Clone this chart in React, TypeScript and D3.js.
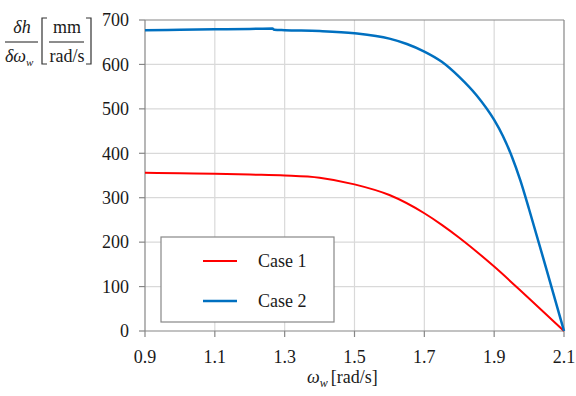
import React from "react";
import * as d3 from "d3";

const xTicks = [0.9, 1.1, 1.3, 1.5, 1.7, 1.9, 2.1];
const yTicks = [0, 100, 200, 300, 400, 500, 600, 700];

const case1X = [0.9, 1.0, 1.1, 1.2, 1.3, 1.4, 1.5, 1.6, 1.7, 1.75, 1.8, 1.9, 2.0, 2.1];
const case1Y = [356, 355, 354, 352, 350, 345, 330, 306, 265, 239, 210, 145, 73, 0];

const case2X = [0.9, 1.0, 1.1, 1.2, 1.265, 1.27, 1.3, 1.4, 1.5, 1.6, 1.65, 1.7, 1.75, 1.8, 1.85, 1.9, 1.925, 1.95, 1.975, 2.0, 2.05, 2.1];
const case2Y = [677, 678, 679, 680, 681, 678, 677, 675, 670, 658, 646, 629, 606, 572, 530, 475, 439, 394, 339, 274, 138, 0];

const seriesNames = ["Case 1", "Case 2"];
const seriesColors = ["#ff0000", "#0070c0"];

const FONT = "Liberation Serif, DejaVu Serif, Times New Roman, serif";

export default function App() {
  const L = 145, R = 564, T = 20, B = 331;
  const x = d3.scaleLinear().domain([0.9, 2.1]).range([L, R]);
  const y = d3.scaleLinear().domain([0, 700]).range([B, T]);
  const line = d3
    .line<[number, number]>()
    .x((d) => x(d[0]))
    .y((d) => y(d[1]))
    .curve(d3.curveMonotoneX);
  const s1 = case1X.map((v, i) => [v, case1Y[i]] as [number, number]);
  const s2 = case2X.map((v, i) => [v, case2Y[i]] as [number, number]);
  const axisColor = "#868686";
  const txt = "#1a1a1a";
  const ts = { fontFamily: FONT } as React.CSSProperties;

  const bracket = (bx: number, dir: number) =>
    `M${bx + dir * 5},18 L${bx},18 L${bx},64 L${bx + dir * 5},64`;

  return (
    <svg
      width={576}
      height={396}
      style={{ position: "absolute", left: 0, top: 0, background: "#fff", fontFamily: FONT }}
    >
      {/* grid */}
      {xTicks.slice(1, -1).map((t) => (
        <line key={"gx" + t} x1={x(t)} x2={x(t)} y1={T} y2={B} stroke="#d9d9d9" strokeWidth={1.2} />
      ))}
      {yTicks.slice(1, -1).map((t) => (
        <line key={"gy" + t} x1={L} x2={R} y1={y(t)} y2={y(t)} stroke="#d9d9d9" strokeWidth={1.2} />
      ))}
      {/* frame */}
      <line x1={L} x2={R} y1={T} y2={T} stroke={axisColor} strokeWidth={1.2} />
      <line x1={R} x2={R} y1={T} y2={B} stroke={axisColor} strokeWidth={1.2} />
      <line x1={L} x2={L} y1={T} y2={B} stroke={axisColor} strokeWidth={1.2} />
      <line x1={L} x2={R} y1={B} y2={B} stroke={axisColor} strokeWidth={1.2} />
      {/* ticks */}
      {yTicks.map((t) => (
        <g key={"ty" + t}>
          <line x1={L - 6} x2={L} y1={y(t)} y2={y(t)} stroke={axisColor} strokeWidth={1.2} />
          <text x={L - 16} y={y(t)} dy="0.35em" textAnchor="end" fontSize={18} fill={txt} style={ts}>
            {t}
          </text>
        </g>
      ))}
      {xTicks.map((t) => (
        <g key={"tx" + t}>
          <line x1={x(t)} x2={x(t)} y1={B} y2={B + 6} stroke={axisColor} strokeWidth={1.2} />
          <text x={x(t)} y={B + 32} textAnchor="middle" fontSize={18} fill={txt} style={ts}>
            {t.toFixed(1)}
          </text>
        </g>
      ))}
      {/* series */}
      <path d={line(s1) || ""} fill="none" stroke={seriesColors[0]} strokeWidth={2} />
      <path d={line(s2) || ""} fill="none" stroke={seriesColors[1]} strokeWidth={2.5} />
      {/* legend */}
      <rect x={161} y={237} width={173} height={85} fill="#fff" stroke="#888" strokeWidth={1.2} />
      {seriesNames.map((n, i) => (
        <g key={n}>
          <line x1={203} x2={237} y1={261 + i * 40} y2={261 + i * 40} stroke={seriesColors[i]} strokeWidth={i === 0 ? 2 : 2.5} />
          <text x={258} y={267 + i * 40} fontSize={18} fill={txt} style={ts}>
            {n}
          </text>
        </g>
      ))}
      {/* x title */}
      <text x={307} y={383} fontSize={18} fill={txt} style={ts}>
        <tspan fontStyle="italic">ω</tspan>
        <tspan fontStyle="italic" fontSize={12} dy={4}>w</tspan>
        <tspan dy={-4} dx={3}>[rad/s]</tspan>
      </text>
      {/* y title */}
      <text x={22} y={33} textAnchor="middle" fontSize={18} fontStyle="italic" fill={txt} style={ts}>
        δh
      </text>
      <line x1={5} x2={38} y1={42} y2={42} stroke={txt} strokeWidth={1} />
      <text x={5} y={62} fontSize={18} fontStyle="italic" fill={txt} style={ts}>
        δω<tspan fontSize={11} dy={4}>w</tspan>
      </text>
      <path d={bracket(42, 1)} fill="none" stroke="#333" strokeWidth={1.2} />
      <text x={67} y={33} textAnchor="middle" fontSize={18} fill={txt} style={ts}>
        mm
      </text>
      <line x1={49} x2={84} y1={42} y2={42} stroke={txt} strokeWidth={1} />
      <text x={67} y={62} textAnchor="middle" fontSize={18} fill={txt} style={ts}>
        rad/s
      </text>
      <path d={bracket(91, -1)} fill="none" stroke="#333" strokeWidth={1.2} />
    </svg>
  );
}
